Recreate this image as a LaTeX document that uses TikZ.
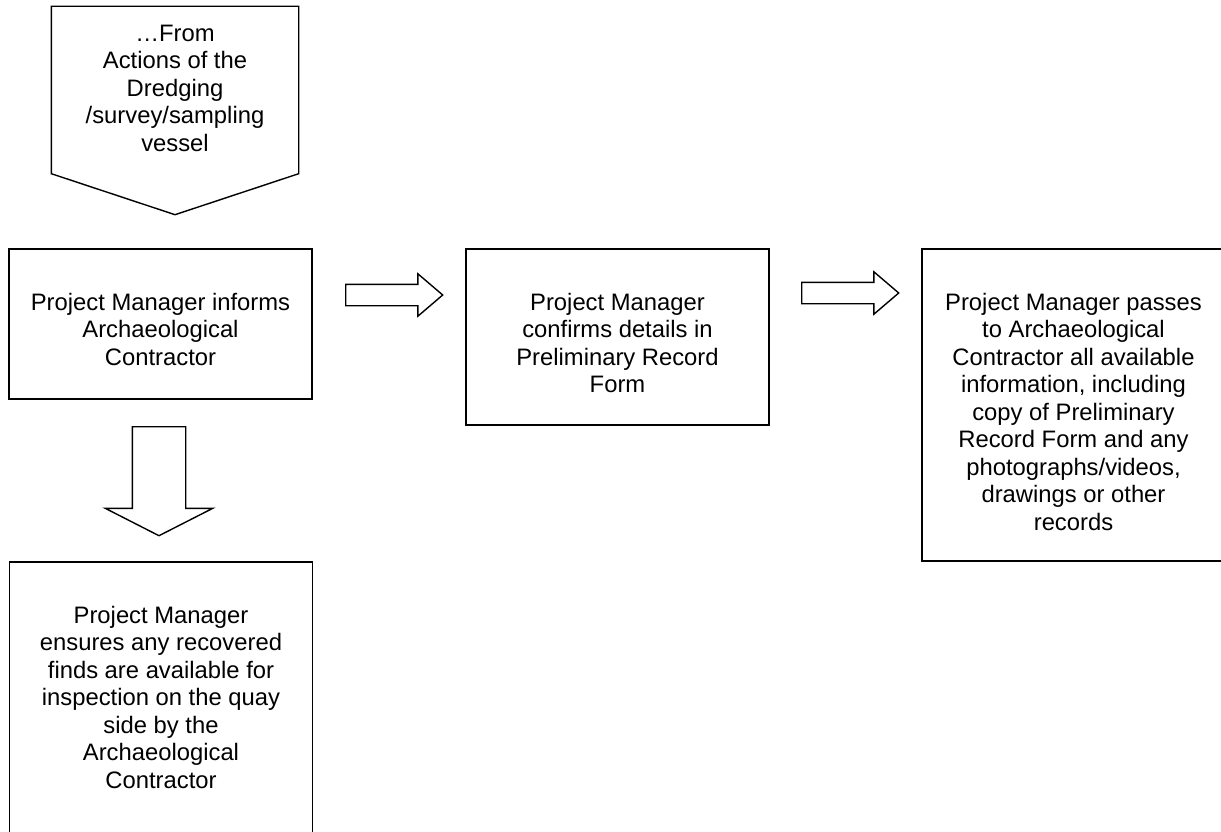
\documentclass[tikz,border=0pt]{standalone}
\usepackage{fontspec}
\setmainfont{Liberation Sans}
\usetikzlibrary{arrows,calc,shapes.geometric,shapes.arrows,positioning}

\begin{document}
\begin{tikzpicture}[x=1pt,y=-1pt,line width=1.4pt]
    \tikzset{BoxStyle/.style = {draw,
        minimum width = 303pt,
        inner sep = 0pt},
      TextStyle/.style = {align=center,
        inner sep = 0pt,
        font = \fontsize{23.8}{27.5}\selectfont},
      ArrowStyle/.style = {draw, single arrow,
        inner xsep = 0pt,
        inner ysep = 10pt,
        minimum height = 97pt,
        minimum width = 41pt,
        single arrow head extend = 10.5pt,
        single arrow tip angle = 81}}
    \useasboundingbox (0,0) rectangle (1221,832);

    % incoming pentagon
    \node[minimum width=246pt, minimum height=166pt, inner sep=0pt] (Src) at (175,90) {};
    \draw (Src.north west) -- (Src.north east) -- (Src.south east)
      -- ([yshift=-41pt]Src.south) -- (Src.south west) -- cycle;
    \node[TextStyle, below=18pt of Src.north] (SrcT) {…From\\Actions of the\\Dredging\\/survey/sampling\\vessel};

    \node[BoxStyle, minimum height=150pt] (A1) at (160.5,324) {};
    \node[TextStyle, below=44pt of A1.north] (A1T) {Project Manager informs\\Archaeological\\Contractor};

    \node[BoxStyle, minimum height=176pt] (B1) at (617.5,337) {};
    \node[TextStyle, below=44pt of B1.north] (B1T) {Project Manager\\confirms details in\\Preliminary Record\\Form};

    \node[BoxStyle, minimum height=312pt] (C1) at (1073.5,405) {};
    \node[TextStyle, below=44pt of C1.north] (C1T) {Project Manager passes\\to Archaeological\\Contractor all available\\information, including\\copy of Preliminary\\Record Form and any\\photographs/videos,\\drawings or other\\records};

    \node[BoxStyle, minimum height=300pt] (A2) at (161,712) {};
    \node[TextStyle, below=44pt of A2.north] (A2T) {Project Manager\\ensures any recovered\\finds are available for\\inspection on the quay\\side by the\\Archaeological\\Contractor};

    % block arrows
    \node[ArrowStyle, anchor=tail] (AB) at (345,295) {};
    \node[ArrowStyle, anchor=tail] (BC) at (801,293) {};
    \node[ArrowStyle, anchor=tail, rotate=-90, inner ysep=26pt,
      minimum height=109pt, minimum width=106pt,
      single arrow head extend=27pt, single arrow tip angle=126] (AA) at (159,426) {};
\end{tikzpicture}
\end{document}
